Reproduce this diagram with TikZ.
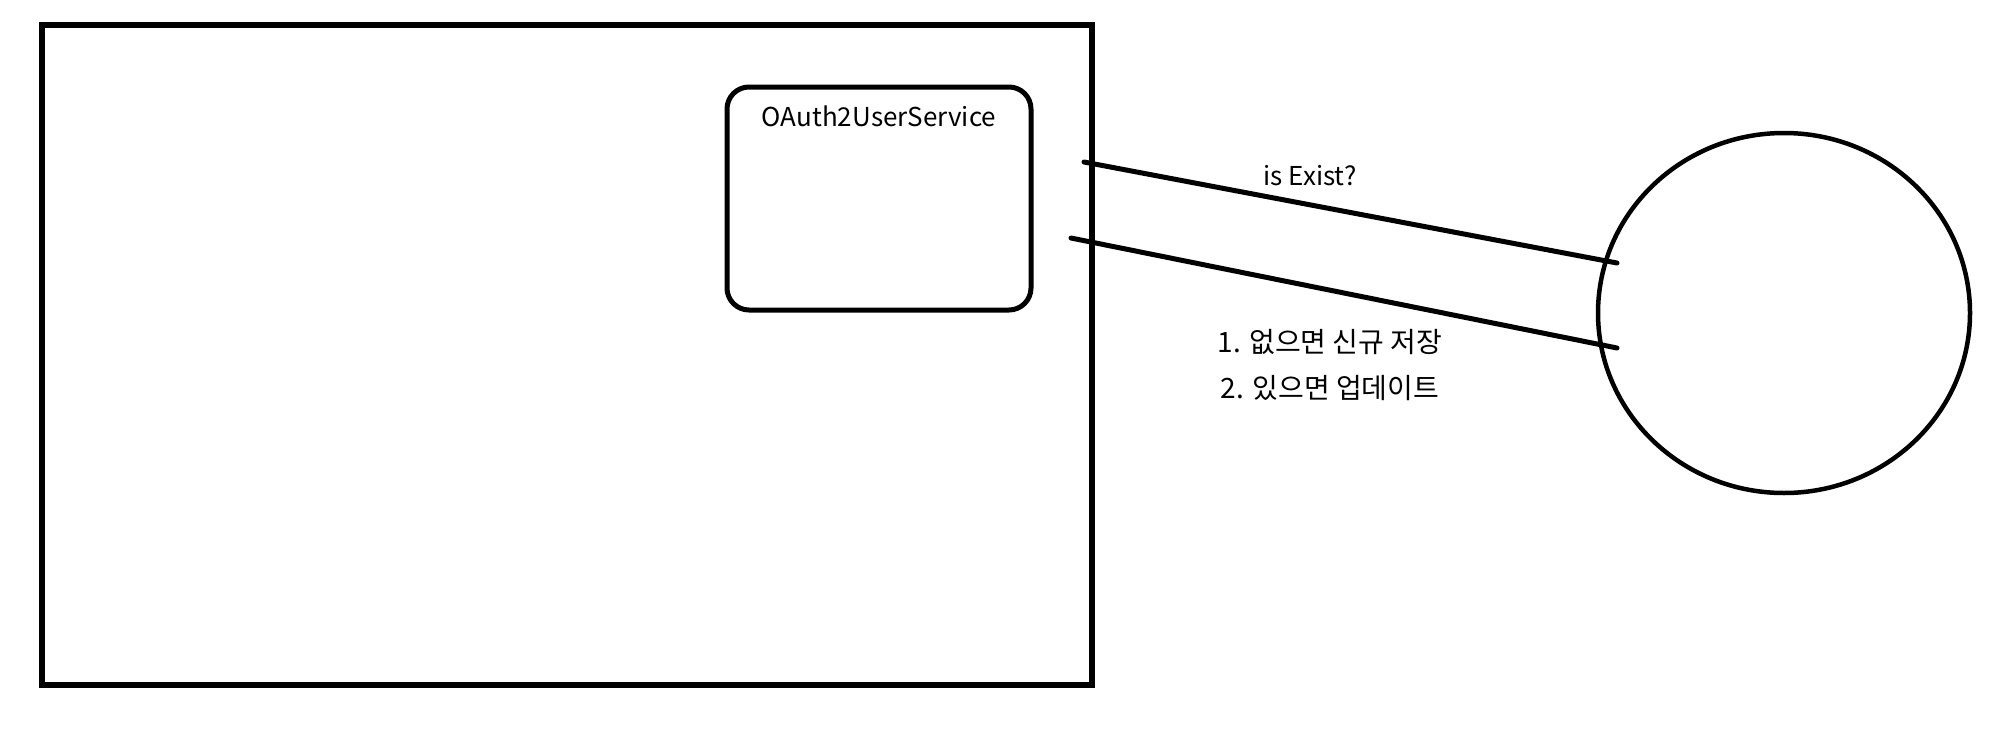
\documentclass[tikz,border=0pt]{standalone}
\usepackage{fontspec}
\setmainfont{Noto Sans CJK KR}
\usetikzlibrary{positioning,shapes.geometric}
\tikzset{
  frame/.style={draw, rectangle, line width=6pt, minimum width=1050pt, minimum height=660pt, inner sep=0pt},
  svcbox/.style={draw, rectangle, rounded corners=22pt, line width=5pt, minimum width=304pt, minimum height=223pt, inner sep=0pt},
  dbcirc/.style={draw, ellipse, line width=4.5pt, minimum width=372pt, minimum height=360pt, inner sep=0pt},
  conn/.style={line width=5pt, line cap=round},
  lbl/.style={font=\fontsize{26}{30}\selectfont, inner sep=1pt, align=center},
  klbl/.style={font=\fontsize{28}{32}\selectfont, inner sep=1pt, align=center},
}
\begin{document}
\begin{tikzpicture}[x=1pt, y=-1pt]
\useasboundingbox (0,0) rectangle (2000,742);
\node[frame] (app) at (567,355) {};
\node[svcbox] (svc) at (879,198.5) {};
\node[lbl, below=20pt of svc.north] (svcname) {OAuth2UserService};
\node[dbcirc] (db) at (1784,313) {};
% query / save lines
\coordinate (qa) at (1084,162);
\coordinate (qb) at (1617,263);
\coordinate (sa) at (1071,238);
\coordinate (sb) at (1617,348);
\draw[conn] (qa) -- (qb);
\draw[conn] (sa) -- (sb);
\node[lbl] (ask) at (1310,176) {is Exist?};
\node[klbl] (ins) at (1330,342) {1. 없으면 신규 저장};
\node[klbl] (upd) at (1330,388) {2. 있으면 업데이트};
\end{tikzpicture}
\end{document}
